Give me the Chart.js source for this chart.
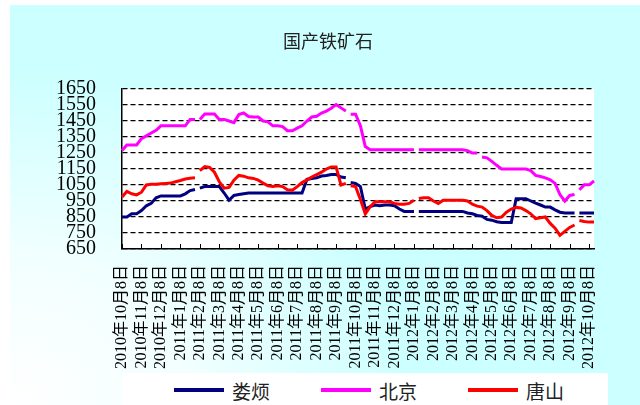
<!DOCTYPE html>
<html>
<head>
<meta charset="utf-8">
<script src="https://cdn.jsdelivr.net/npm/chart.js@4"></script>
<style>
  body { margin: 0; }
  #marco { position: relative; width: 640px; height: 405px; background: #fff; overflow: hidden; }
  #fondo { position: absolute; left: 10px; top: 5px; right: 0; bottom: 0;
    background: radial-gradient(ellipse 80% 105% at 0% 100%, #ffffff 0%, #f2ffff 35%, #ccffff 80%); }
  canvas { position: absolute; left: 0; top: 0; }
  #titulo { position: absolute; left: 0; top: 28px; width: 656px; text-align: center;
    font-family: "Noto Sans CJK SC"; font-size: 18px; color: #222; line-height: 24px; }
  #leyenda { position: absolute; left: 122px; top: 373px; width: 486px; height: 32px; background: #fff;
    font-family: "Noto Sans CJK SC"; font-size: 19px; color: #222; }
  .item { position: absolute; top: 0; height: 34px; display: flex; align-items: center; }
  .linea { width: 50px; height: 4px; margin-right: 8px; }
</style>
</head>
<body>
<div id="marco">
  <div id="fondo"></div>
  <canvas id="grafico" width="640" height="405"></canvas>
  <div id="titulo">国产铁矿石</div>
  <div id="leyenda"></div>
</div>
<script>
// etiquetas del eje x (una por mes)
const meses = [
  "2010年10月8日", "2010年11月8日", "2010年12月8日",
  "2011年1月8日", "2011年2月8日", "2011年3月8日", "2011年4月8日", "2011年5月8日", "2011年6月8日",
  "2011年7月8日", "2011年8月8日", "2011年9月8日", "2011年10月8日", "2011年11月8日", "2011年12月8日",
  "2012年1月8日", "2012年2月8日", "2012年3月8日", "2012年4月8日", "2012年5月8日", "2012年6月8日",
  "2012年7月8日", "2012年8月8日", "2012年9月8日", "2012年10月8日"
];
const PUNTOS_MES = 4;

const series = ["娄烦", "北京", "唐山"];

const loufan = [
  850, 850, 870, 870, 890, 920, 935, 970, 982, 982,
  982, 982, 982, 995, 1015, 1022, 1030, 1040, 1040, 1040,
  1040, 1000, 955, 985, 990, 995, 1000, 1000, 1000, 1000,
  1000, 1000, 1000, 1000, 1000, 1000, 1000, 1000, 1085, 1090,
  1095, 1106, 1110, 1116, 1116, 1100, 1095, 1065, 1060, 1040,
  900, 915, 925, 920, 925, 925, 920, 900, 885, 885,
  885, 885, 885, 885, 885, 885, 885, 885, 885, 885,
  885, 875, 870, 860, 855, 835, 830, 820, 815, 815,
  815, 964, 964, 964, 950, 937, 925, 912, 912, 895,
  880, 875, 875, 875, 875, 875, 875, 875
];

const beijing = [
  1265, 1300, 1300, 1300, 1340, 1357, 1375, 1392, 1420, 1420,
  1420, 1420, 1420, 1420, 1460, 1460, 1460, 1494, 1494, 1494,
  1460, 1460, 1450, 1440, 1490, 1500, 1478, 1475, 1475, 1450,
  1445, 1420, 1420, 1415, 1389, 1389, 1405, 1420, 1450, 1475,
  1480, 1500, 1512, 1530, 1553, 1532, 1512, 1492, 1492, 1420,
  1290, 1270, 1270, 1270, 1270, 1270, 1270, 1270, 1270, 1270,
  1270, 1270, 1270, 1270, 1270, 1270, 1270, 1270, 1270, 1270,
  1270, 1265, 1250, 1250, 1225, 1220, 1198, 1173, 1150, 1150,
  1150, 1150, 1150, 1150, 1140, 1110, 1103, 1095, 1082, 1060,
  990, 950, 985, 990, 1020, 1051, 1051, 1075
];

const tangshan = [
  975, 1010, 995, 988, 1005, 1050, 1054, 1055, 1058, 1060,
  1062, 1070, 1078, 1087, 1092, 1095, 1140, 1165, 1160, 1130,
  1070, 1030, 1035, 1080, 1110, 1105, 1095, 1091, 1080, 1062,
  1045, 1040, 1045, 1040, 1020, 1018, 1040, 1065, 1082, 1100,
  1115, 1130, 1150, 1163, 1163, 1050, 1060, 1045, 1040, 960,
  870, 915, 945, 945, 945, 945, 935, 930, 930, 935,
  955, 965, 970, 970, 950, 935, 955, 955, 955, 955,
  955, 950, 930, 918, 912, 890, 860, 845, 850, 880,
  900, 910, 906, 890, 870, 840, 845, 850, 810, 780,
  735, 760, 785, 800, 828, 822, 818, 818
];

// tramos sin dato (indice del punto donde empieza el hueco)
const huecosLoufan = [15, 46, 60, 93];
const huecosBeijing = [15, 46, 60, 73, 93];
const huecosTangshan = [15, 46, 60, 93];

const etiquetas = loufan.map((v, i) => i % PUNTOS_MES === 0 ? (meses[i / PUNTOS_MES] || "") : "");

function serie(nombre, datos, color, huecos, orden) {
  return {
    label: nombre,
    data: datos,
    borderColor: color,
    backgroundColor: color,
    borderWidth: 3,
    pointRadius: 0,
    tension: 0,
    fill: false,
    order: orden,
    segment: {
      borderColor: ctx => huecos.includes(ctx.p0DataIndex) ? "rgba(0,0,0,0)" : undefined
    }
  };
}

// fondo blanco del area de dibujo
const fondoBlanco = {
  id: "fondoBlanco",
  beforeDraw(chart) {
    const { ctx, chartArea: a } = chart;
    ctx.save();
    ctx.fillStyle = "#fff";
    ctx.fillRect(a.left, a.top, a.right - a.left, a.bottom - a.top);
    ctx.restore();
  }
};

// marcas hacia dentro en el eje x
const marcasX = {
  id: "marcasX",
  afterDraw(chart) {
    const { ctx, chartArea: a } = chart;
    const x = chart.scales.x;
    ctx.save();
    ctx.strokeStyle = "#000";
    ctx.lineWidth = 1;
    x.ticks.forEach((t, i) => {
      const px = Math.round(x.getPixelForTick(i)) + 0.5;
      ctx.beginPath();
      ctx.moveTo(px, a.bottom);
      ctx.lineTo(px, a.bottom - 5);
      ctx.stroke();
    });
    ctx.restore();
  }
};

const grafico = new Chart(document.getElementById("grafico"), {
  type: "line",
  data: {
    labels: etiquetas,
    datasets: [
      serie(series[0], loufan, "#000080", huecosLoufan, 2),
      serie(series[1], beijing, "#ff00ff", huecosBeijing, 1),
      serie(series[2], tangshan, "#ff0000", huecosTangshan, 0)
    ]
  },
  options: {
    responsive: false,
    animation: false,
    layout: { padding: { left: 30, right: 46, top: 89, bottom: 20 } },
    plugins: {
      legend: { display: false },
      tooltip: { enabled: false },
      title: { display: false }
    },
    scales: {
      x: {
        grid: { display: false, drawTicks: false },
        border: { display: true, color: "#000", width: 1.5 },
        afterBuildTicks: s => { s.ticks = s.ticks.filter(t => t.value % PUNTOS_MES === 0); },
        ticks: {
          autoSkip: false,
          minRotation: 90,
          maxRotation: 90,
          padding: 16,
          color: "#000",
          font: { family: "\"Liberation Serif\", \"Noto Sans CJK SC\"", size: 16 },
          callback: function (v) { return this.getLabelForValue(v); }
        }
      },
      y: {
        min: 650,
        max: 1650,
        ticks: {
          stepSize: 100,
          autoSkip: false,
          padding: 26,
          color: "#000",
          font: { family: "\"Liberation Serif\"", size: 20 },
          callback: v => String(v)
        },
        grid: { color: "#000", lineWidth: 1.2, drawTicks: false },
        border: { color: "#000", width: 1.5, dash: [5, 3] }
      }
    }
  },
  plugins: [fondoBlanco, marcasX]
});

// leyenda en html
const leyenda = document.getElementById("leyenda");
grafico.data.datasets.forEach((d, k) => {
  const item = document.createElement("div");
  item.className = "item";
  item.style.left = (52 + k * 147) + "px";
  const linea = document.createElement("span");
  linea.className = "linea";
  linea.style.background = d.borderColor;
  const txt = document.createElement("span");
  txt.textContent = d.label;
  item.appendChild(linea);
  item.appendChild(txt);
  leyenda.appendChild(item);
});
</script>
</body>
</html>
